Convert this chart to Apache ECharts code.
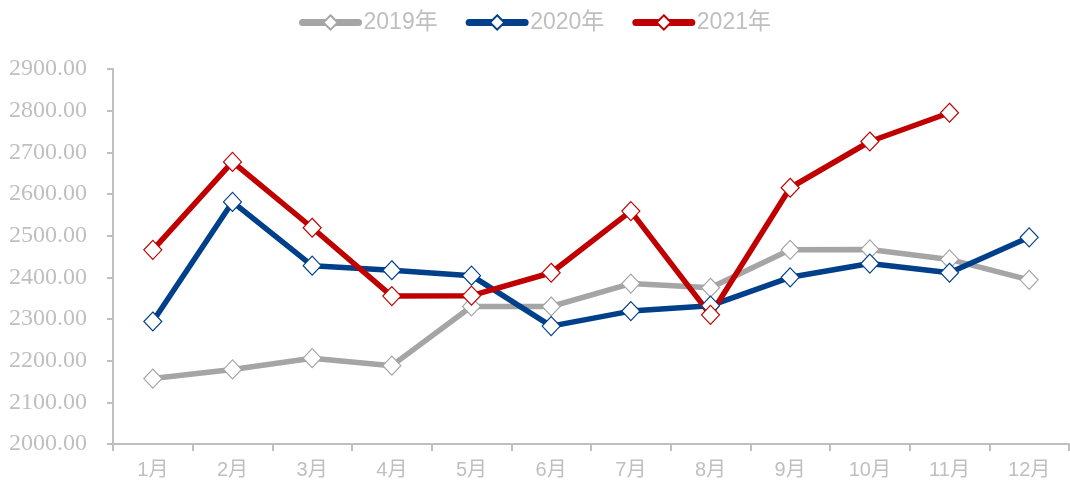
<!DOCTYPE html>
<html>
<head>
<meta charset="utf-8">
<script src="https://cdn.jsdelivr.net/npm/echarts@6/dist/echarts.min.js"></script>
<style>
  html, body { margin: 0; padding: 0; background: #fff; }
  #chart { width: 1070px; height: 489px; }
</style>
</head>
<body>
<div id="chart"></div>
<script>
const months = ['1月', '2月', '3月', '4月', '5月', '6月', '7月', '8月', '9月', '10月', '11月', '12月'];
const data2019 = [2157, 2179, 2206, 2188, 2330, 2330, 2385, 2375, 2466, 2467, 2443, 2394];
const data2020 = [2294, 2581, 2428, 2417, 2404, 2283, 2319, 2332, 2400, 2433, 2411, 2496];
const data2021 = [2466, 2677, 2519, 2355, 2356, 2411, 2559, 2310, 2615, 2726, 2795];

const gridColor = '#bfbfbf';
const textColor = '#bfbfbf';

const makeSeries = (name, color, data) => ({
    name: name,
    type: 'line',
    data: data,
    symbol: 'diamond',
    symbolSize: [18, 19],
    lineStyle: { color: color, width: 5.5 },
    itemStyle: { color: '#fff', borderColor: color, borderWidth: 1.2 },
    z: 2
});

echarts.init(document.getElementById('chart')).setOption({
    animation: false,
    backgroundColor: '#fff',
    legend: {
        top: 6,
        left: 'center',
        itemWidth: 56,
        itemHeight: 18,
        itemGap: 28,
        lineStyle: { width: 7, cap: 'round' },
        textStyle: {
            color: textColor,
            fontSize: 23,
            fontFamily: "'Liberation Sans Narrow', 'Liberation Sans', 'Noto Sans CJK SC'"
        },
        data: ['2019年', '2020年', '2021年']
    },
    grid: { left: 113, right: 1, top: 69, bottom: 45, containLabel: false },
    xAxis: {
        type: 'category',
        data: months,
        boundaryGap: true,
        axisLine: { lineStyle: { color: gridColor, width: 2 } },
        axisTick: { show: true, length: 7, lineStyle: { color: gridColor, width: 2 } },
        axisLabel: {
            color: textColor,
            fontSize: 20,
            margin: 16,
            fontFamily: "'Liberation Sans Narrow', 'Liberation Sans', 'Noto Sans CJK SC'"
        },
        splitLine: { show: false }
    },
    yAxis: {
        type: 'value',
        min: 2000,
        max: 2900,
        interval: 100,
        axisLine: { show: true, lineStyle: { color: gridColor, width: 2 } },
        axisTick: { show: true, length: 6, lineStyle: { color: gridColor, width: 2 } },
        axisLabel: {
            color: textColor,
            fontSize: 24,
            margin: 26,
            fontFamily: "'Liberation Serif', 'Times New Roman', serif",
            formatter: (v) => v.toFixed(2)
        },
        splitLine: { show: false }
    },
    series: [
        makeSeries('2019年', '#a5a5a5', data2019),
        makeSeries('2020年', '#003f8a', data2020),
        makeSeries('2021年', '#c00000', data2021)
    ]
});
</script>
</body>
</html>
